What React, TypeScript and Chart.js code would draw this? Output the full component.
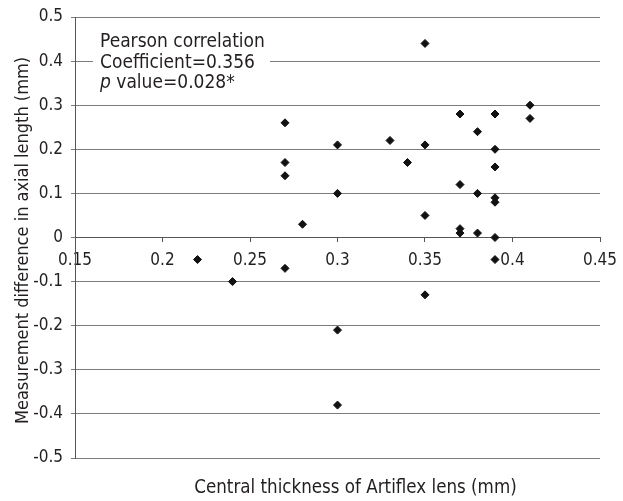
import React, { useEffect, useRef } from "react";
import { Chart, registerables } from "chart.js";

Chart.register(...registerables);

const thickness = [
  0.22, 0.24, 0.27, 0.27, 0.27, 0.27, 0.28, 0.30, 0.30, 0.30, 0.30,
  0.33, 0.34, 0.35, 0.35, 0.35, 0.35, 0.37, 0.37, 0.37, 0.37,
  0.38, 0.38, 0.38, 0.39, 0.39, 0.39, 0.39, 0.39, 0.39, 0.39, 0.41, 0.41,
];
const difference = [
  -0.05, -0.10, 0.26, 0.17, 0.14, -0.07, 0.03, 0.21, 0.10, -0.21, -0.38,
  0.22, 0.17, 0.44, 0.21, 0.05, -0.13, 0.28, 0.12, 0.02, 0.01,
  0.24, 0.10, 0.01, 0.28, 0.20, 0.16, 0.09, 0.08, 0.00, -0.05, 0.30, 0.27,
];
const xTicks = [0.15, 0.2, 0.25, 0.3, 0.35, 0.4, 0.45];
const yTicks = [0.5, 0.4, 0.3, 0.2, 0.1, 0, -0.1, -0.2, -0.3, -0.4, -0.5];
const xTitle = "Central thickness of Artiflex lens (mm)";
const yTitle = "Measurement difference in axial length (mm)";
const noteLines = ["Pearson correlation", "Coefficient=0.356"];
const noteP = "p";
const noteRest = " value=0.028*";

const FONT = '"Liberation Sans Narrow", "DejaVu Sans Condensed", "Arial Narrow", sans-serif';
const TEXT = "#231f20";

const fmt = (v: number) => String(parseFloat(Number(v).toFixed(2)));

const annotations = {
  id: "annotations",
  beforeDatasetsDraw(chart: any) {
    const { ctx, chartArea } = chart;
    ctx.save();
    ctx.fillStyle = "#ffffff";
    ctx.fillRect(chartArea.left + 18, chartArea.top + 11, 177, 66);
    ctx.fillStyle = TEXT;
    ctx.font = `19px ${FONT}`;
    ctx.textAlign = "left";
    ctx.textBaseline = "middle";
    const x0 = chartArea.left + 25;
    ctx.fillText(noteLines[0], x0, chartArea.top + 25);
    ctx.fillText(noteLines[1], x0, chartArea.top + 46);
    ctx.font = `italic 19px ${FONT}`;
    ctx.fillText(noteP, x0, chartArea.top + 66);
    const pw = ctx.measureText(noteP).width;
    ctx.font = `19px ${FONT}`;
    ctx.fillText(noteRest, x0 + pw, chartArea.top + 66);
    ctx.restore();
  },
  afterDraw(chart: any) {
    const { ctx, chartArea } = chart;
    ctx.save();
    ctx.fillStyle = TEXT;
    ctx.font = `18.6px ${FONT}`;
    ctx.textAlign = "center";
    ctx.textBaseline = "middle";
    ctx.fillText(xTitle, (chartArea.left + chartArea.right) / 2 + 18, chartArea.bottom + 30);
    ctx.font = `18px ${FONT}`;
    ctx.translate(23, (chartArea.top + chartArea.bottom) / 2 + 3);
    ctx.rotate(-Math.PI / 2);
    ctx.fillText(yTitle, 0, 0);
    ctx.restore();
  },
};

export default function App() {
  const ref = useRef<HTMLCanvasElement>(null);
  useEffect(() => {
    if (!ref.current) return;
    const chart = new Chart(ref.current, {
      type: "scatter",
      data: {
        datasets: [
          {
            data: thickness.map((x, i) => ({ x, y: difference[i] })),
            pointStyle: "rectRot",
            pointRadius: 4,
            pointBorderWidth: 1,
            backgroundColor: "#111111",
            borderColor: "#111111",
          },
        ],
      },
      options: {
        animation: false,
        responsive: false,
        devicePixelRatio: 1,
        layout: { padding: { left: 0, top: 17, right: 23, bottom: 43 } },
        plugins: { legend: { display: false }, tooltip: { enabled: false } },
        scales: {
          x: {
            type: "linear",
            min: 0.15,
            max: 0.45,
            position: { y: 0 } as any,
            afterBuildTicks: (s: any) => {
              s.ticks = xTicks.map((value) => ({ value }));
            },
            afterFit: (s: any) => {
              s.paddingLeft = 0;
              s.paddingRight = 0;
              s.paddingTop = 0;
              s.paddingBottom = 0;
            },
            grid: { drawOnChartArea: false, tickLength: 4, color: "#555555" },
            border: { color: "#555555", width: 1 },
            ticks: {
              callback: (v: any) => fmt(v),
              font: { family: FONT, size: 17 },
              color: TEXT,
              padding: 9,
              maxRotation: 0,
              autoSkip: false,
            },
          },
          y: {
            type: "linear",
            min: -0.5,
            max: 0.5,
            afterBuildTicks: (s: any) => {
              s.ticks = yTicks.map((value) => ({ value }));
            },
            afterFit: (s: any) => {
              s.width = 75;
              s.paddingTop = 0;
              s.paddingBottom = 0;
            },
            grid: { color: "#7c7c7c", tickLength: 4, lineWidth: 1 },
            border: { color: "#555555", width: 1 },
            ticks: {
              callback: (v: any) => fmt(v),
              font: { family: FONT, size: 17 },
              color: TEXT,
              padding: 8,
              autoSkip: false,
            },
          },
        },
      },
      plugins: [annotations],
    });
    return () => chart.destroy();
  }, []);
  return (
    <div style={{ position: "fixed", left: 0, top: 0, width: 623, height: 501, background: "#fff" }}>
      <canvas ref={ref} width={623} height={501} />
    </div>
  );
}
